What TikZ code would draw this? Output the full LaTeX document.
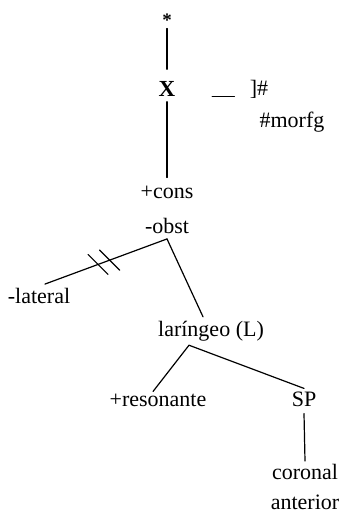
\documentclass[tikz,border=0pt]{standalone}
\usepackage{fontspec}
\setmainfont{Liberation Serif}
\begin{document}
\begin{tikzpicture}[line cap=round,line join=round,x=1pt,y=-1pt,
    feat/.style={inner sep=0pt,font=\fontsize{22}{26}\selectfont},
    tie/.style={line width=1.2pt}]
    \useasboundingbox (0,0) rectangle (341,513);

    % skeleton
    \node[feat,font=\fontsize{19}{22}\selectfont\bfseries] (star) at (167,20) {*};
    \node[feat,font=\fontsize{23}{27}\selectfont\bfseries] (X) at (167,89) {X};
    \coordinate (u1) at (212,97);
    \coordinate (u2) at (235,97);
    \node[feat] (bound) at (259,89) {]\#};
    \node[feat] (morfg) at (292,122) {\#morfg};

    % features
    \node[feat] (cons) at (167,192) {+cons};
    \node[feat] (obst) at (167,226) {-obst};
    \node[feat] (lateral) at (39,296) {-lateral};
    \node[feat] (lar) at (211,331) {laríngeo (L)};
    \node[feat] (reson) at (158,400) {+resonante};
    \node[feat] (SP) at (304,399) {SP};
    \node[feat] (coronal) at (305,472) {coronal};
    \node[feat] (anterior) at (305,502) {anterior};

    % lines
    \draw [tie] ([yshift=-2pt]star.south) -- ([yshift=12pt]X.north);
    \draw [tie] ([yshift=-5pt]X.south) -- ([yshift=8pt]cons.north);
    \draw [line width=1pt,dash pattern=on 1.5pt off 0.6pt] (u1) -- (u2);
    \draw [tie] ([yshift=-5pt]obst.south) -- coordinate[pos=0.47] (h1) coordinate[pos=0.565] (h2) ([xshift=6pt,yshift=4pt]lateral.north);
    \draw [tie] (h1) ++(-10,-10) -- ++(20,20);
    \draw [tie] (h2) ++(-10,-10) -- ++(20,20);
    \draw [tie] ([yshift=-5pt]obst.south) -- ([xshift=-8pt,yshift=4pt]lar.north);
    \draw [tie] ([xshift=-22pt,yshift=-4pt]lar.south) -- ([xshift=-5pt,yshift=2pt]reson.north);
    \draw [tie] ([xshift=-22pt,yshift=-4pt]lar.south) -- ([yshift=3pt]SP.north);
    \draw [tie] ([yshift=-7pt]SP.south) -- ([yshift=3pt]coronal.north);
\end{tikzpicture}
\end{document}
